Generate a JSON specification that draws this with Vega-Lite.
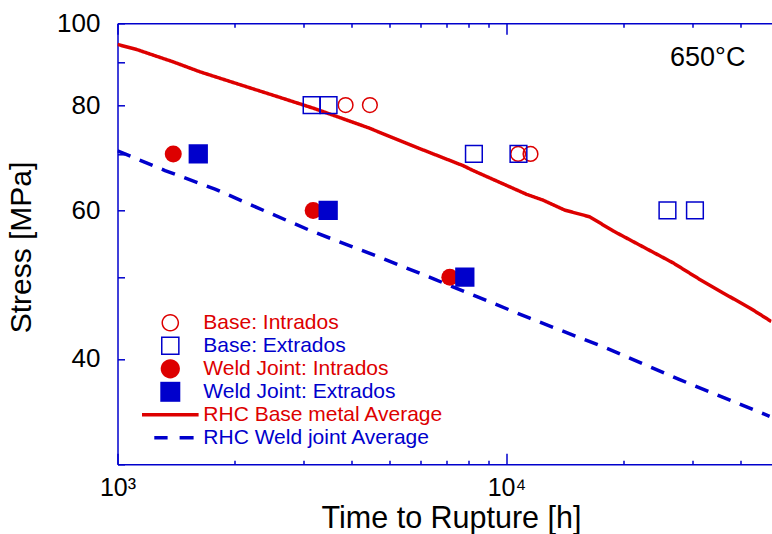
{
  "$schema": "https://vega.github.io/schema/vega-lite/v6.json",
  "width": 654,
  "height": 441,
  "autosize": {"type": "none"},
  "padding": {"left": 117.5, "top": 23.3, "right": 0.5, "bottom": 69.7},
  "background": "white",
  "config": {
    "view": {"stroke": null},
    "font": "Liberation Sans",
    "axis": {
      "grid": false,
      "domainColor": "#0000cc",
      "domainWidth": 1.5,
      "tickColor": "#0000cc",
      "tickWidth": 1.5,
      "labelColor": "black",
      "labelFont": "Liberation Sans",
      "labelFontSize": 25,
      "titleFont": "Liberation Sans",
      "titleFontSize": 30,
      "titleFontWeight": "normal",
      "titleColor": "black",
      "labelOverlap": false,
      "labelBound": false,
      "labelFlush": false
    }
  },
  "resolve": {"axis": {"x": "independent", "y": "independent"}},
  "datasets": {
    "curves": [
      {"series": "RHC Base metal Average", "time": 1000, "stress": 94.4},
      {"series": "RHC Base metal Average", "time": 1120, "stress": 93.1},
      {"series": "RHC Base metal Average", "time": 1391, "stress": 90.0},
      {"series": "RHC Base metal Average", "time": 1629, "stress": 87.6},
      {"series": "RHC Base metal Average", "time": 2085, "stress": 84.45},
      {"series": "RHC Base metal Average", "time": 2590, "stress": 81.8},
      {"series": "RHC Base metal Average", "time": 3217, "stress": 79.2},
      {"series": "RHC Base metal Average", "time": 4410, "stress": 75.2},
      {"series": "RHC Base metal Average", "time": 5813, "stress": 71.4},
      {"series": "RHC Base metal Average", "time": 7735, "stress": 67.8},
      {"series": "RHC Base metal Average", "time": 8208, "stress": 66.9},
      {"series": "RHC Base metal Average", "time": 11256, "stress": 62.7},
      {"series": "RHC Base metal Average", "time": 12417, "stress": 61.7},
      {"series": "RHC Base metal Average", "time": 14115, "stress": 60.05},
      {"series": "RHC Base metal Average", "time": 16368, "stress": 58.96},
      {"series": "RHC Base metal Average", "time": 18790, "stress": 56.74},
      {"series": "RHC Base metal Average", "time": 26794, "stress": 52.0},
      {"series": "RHC Base metal Average", "time": 31380, "stress": 49.7},
      {"series": "RHC Base metal Average", "time": 36020, "stress": 47.9},
      {"series": "RHC Base metal Average", "time": 42190, "stress": 45.98},
      {"series": "RHC Base metal Average", "time": 47960, "stress": 44.3},
      {"series": "RHC Weld joint Average", "time": 1000, "stress": 70.6},
      {"series": "RHC Weld joint Average", "time": 1325, "stress": 66.9},
      {"series": "RHC Weld joint Average", "time": 1781, "stress": 63.6},
      {"series": "RHC Weld joint Average", "time": 2393, "stress": 59.9},
      {"series": "RHC Weld joint Average", "time": 3155, "stress": 56.7},
      {"series": "RHC Weld joint Average", "time": 4773, "stress": 52.7},
      {"series": "RHC Weld joint Average", "time": 6543, "stress": 49.7},
      {"series": "RHC Weld joint Average", "time": 11478, "stress": 44.7},
      {"series": "RHC Weld joint Average", "time": 18065, "stress": 41.2},
      {"series": "RHC Weld joint Average", "time": 27880, "stress": 37.8},
      {"series": "RHC Weld joint Average", "time": 47470, "stress": 34.2}
    ],
    "tests": [
      {"series": "Base: Intrados", "time": 3858, "stress": 80},
      {"series": "Base: Intrados", "time": 4455, "stress": 80},
      {"series": "Base: Intrados", "time": 10711, "stress": 70},
      {"series": "Base: Intrados", "time": 11527, "stress": 70},
      {"series": "Base: Extrados", "time": 3155, "stress": 80},
      {"series": "Base: Extrados", "time": 3488, "stress": 80},
      {"series": "Base: Extrados", "time": 8245, "stress": 70},
      {"series": "Base: Extrados", "time": 10735, "stress": 70},
      {"series": "Base: Extrados", "time": 25930, "stress": 60},
      {"series": "Base: Extrados", "time": 30510, "stress": 60},
      {"series": "Weld Joint: Intrados", "time": 1391, "stress": 70},
      {"series": "Weld Joint: Intrados", "time": 3184, "stress": 60},
      {"series": "Weld Joint: Intrados", "time": 7150, "stress": 50},
      {"series": "Weld Joint: Extrados", "time": 1613, "stress": 70},
      {"series": "Weld Joint: Extrados", "time": 3480, "stress": 60},
      {"series": "Weld Joint: Extrados", "time": 7814, "stress": 50}
    ],
    "notes": [
      {"label": "650°C", "time": 41130, "stress": 89.0}
    ]
  },
  "layer": [
    {
      "data": {"name": "curves"},
      "mark": {"type": "line", "strokeWidth": 3.5, "clip": true},
      "encoding": {
        "x": {
          "field": "time", "type": "quantitative",
          "scale": {"type": "log", "domain": [1000, 48000], "nice": false},
          "axis": {
            "orient": "bottom",
            "title": "Time to Rupture [h]",
            "titleFontSize": 30.5,
            "titleX": 333.5, "titleY": 63, "titleBaseline": "alphabetic",
            "values": [1000, 2000, 3000, 4000, 5000, 6000, 7000, 8000, 9000, 10000, 20000, 30000, 40000],
            "labelExpr": "datum.value === 1000 ? '10³' : datum.value === 10000 ? '10⁴' : ''",
            "tickSize": {"condition": {"test": "datum.value === 1000 || datum.value === 10000", "value": -11}, "value": -4},
            "labelPadding": 22
          }
        },
        "y": {
          "field": "stress", "type": "quantitative",
          "scale": {"type": "log", "domain": [30, 100], "nice": false},
          "axis": {
            "orient": "left",
            "title": "Stress [MPa]",
            "titleX": -87, "titleY": 223.7, "titleBaseline": "alphabetic", "titleAlign": "center",
            "values": [30, 40, 50, 60, 70, 80, 90, 100],
            "labelExpr": "datum.value % 20 === 0 && datum.value > 30 ? format(datum.value, 'd') : ''",
            "labelFontSize": 26,
            "tickSize": -7,
            "labelPadding": 24.5
          }
        },
        "color": {
          "field": "series", "type": "nominal",
          "scale": {
            "domain": ["Base: Intrados", "Base: Extrados", "Weld Joint: Intrados", "Weld Joint: Extrados", "RHC Base metal Average", "RHC Weld joint Average"],
            "range": ["#dd0000", "#0000cc", "#dd0000", "#0000cc", "#dd0000", "#0000cc"]
          },
          "legend": {
            "orient": "none",
            "legendX": 42.3,
            "legendY": 289,
            "title": null,
            "direction": "vertical",
            "padding": 0,
            "rowPadding": 1,
            "symbolSize": 400,
            "symbolStrokeWidth": 0,
            "labelFont": "Liberation Sans",
            "labelFontSize": 21,
            "labelOffset": 22.5,
            "labelLimit": 400,
            "encode": {
              "symbols": {
                "update": {
                  "shape": {"signal": "datum.value === 'Base: Intrados' ? 'M0.88,0A0.88,0.88 0 1,1 -0.88,0A0.88,0.88 0 1,1 0.88,0ZM0.73,0A0.73,0.73 0 1,0 -0.73,0A0.73,0.73 0 1,0 0.73,0Z' : datum.value === 'Base: Extrados' ? 'M-0.93,-0.93H0.93V0.93H-0.93ZM-0.78,-0.78V0.78H0.78V-0.78Z' : datum.value === 'Weld Joint: Intrados' ? 'M0.96,0A0.96,0.96 0 1,1 -0.96,0A0.96,0.96 0 1,1 0.96,0Z' : datum.value === 'Weld Joint: Extrados' ? 'M-1,-1H1V1H-1Z' : datum.value === 'RHC Base metal Average' ? 'M-2.83,-0.17H2.83V0.17H-2.83Z' : 'M-1.6,-0.17H-0.27V0.17H-1.6ZM0.93,-0.17H2.33V0.17H0.93Z'"},
                  "fill": {"signal": "scale('color', datum.value)"},
                  "strokeWidth": {"value": 0},
                  "opacity": {"value": 1}
                }
              },
              "labels": {
                "update": {"fill": {"signal": "scale('color', datum.value)"}}
              }
            }
          }
        },
        "strokeDash": {
          "field": "series", "type": "nominal",
          "scale": {"domain": ["RHC Base metal Average", "RHC Weld joint Average"], "range": [[1, 0], [14, 10]]},
          "legend": null
        }
      }
    },
    {
      "data": {"name": "tests"},
      "transform": [{"filter": "datum.series === 'Base: Intrados'"}],
      "mark": {"type": "point", "shape": "circle", "filled": false, "size": 216, "strokeWidth": 1.5, "opacity": 1, "clip": true},
      "encoding": {
        "x": {"field": "time", "type": "quantitative", "axis": null},
        "y": {"field": "stress", "type": "quantitative", "axis": null},
        "color": {"field": "series", "type": "nominal"}
      }
    },
    {
      "data": {"name": "tests"},
      "transform": [{"filter": "datum.series === 'Base: Extrados'"}],
      "mark": {"type": "point", "shape": "square", "filled": false, "size": 279, "strokeWidth": 1.5, "opacity": 1, "clip": true},
      "encoding": {
        "x": {"field": "time", "type": "quantitative", "axis": null},
        "y": {"field": "stress", "type": "quantitative", "axis": null},
        "color": {"field": "series", "type": "nominal"}
      }
    },
    {
      "data": {"name": "tests"},
      "transform": [{"filter": "datum.series === 'Weld Joint: Intrados'"}],
      "mark": {"type": "point", "shape": "circle", "filled": true, "size": 289, "opacity": 1, "clip": true},
      "encoding": {
        "x": {"field": "time", "type": "quantitative", "axis": null},
        "y": {"field": "stress", "type": "quantitative", "axis": null},
        "color": {"field": "series", "type": "nominal"}
      }
    },
    {
      "data": {"name": "tests"},
      "transform": [{"filter": "datum.series === 'Weld Joint: Extrados'"}],
      "mark": {"type": "point", "shape": "square", "filled": true, "size": 372, "opacity": 1, "clip": true},
      "encoding": {
        "x": {"field": "time", "type": "quantitative", "axis": null},
        "y": {"field": "stress", "type": "quantitative", "axis": null},
        "color": {"field": "series", "type": "nominal"}
      }
    },
    {
      "data": {"name": "notes"},
      "mark": {"type": "text", "align": "right", "baseline": "alphabetic", "fontSize": 27, "font": "Liberation Sans", "color": "black"},
      "encoding": {
        "x": {
          "field": "time", "type": "quantitative",
          "axis": {
            "orient": "top",
            "title": null,
            "labels": false,
            "values": [1000, 2000, 3000, 4000, 5000, 6000, 7000, 8000, 9000, 10000, 20000, 30000, 40000],
            "tickSize": {"condition": {"test": "datum.value === 1000 || datum.value === 10000", "value": -11}, "value": -4}
          }
        },
        "y": {"field": "stress", "type": "quantitative", "axis": null},
        "text": {"field": "label"}
      }
    }
  ]
}
